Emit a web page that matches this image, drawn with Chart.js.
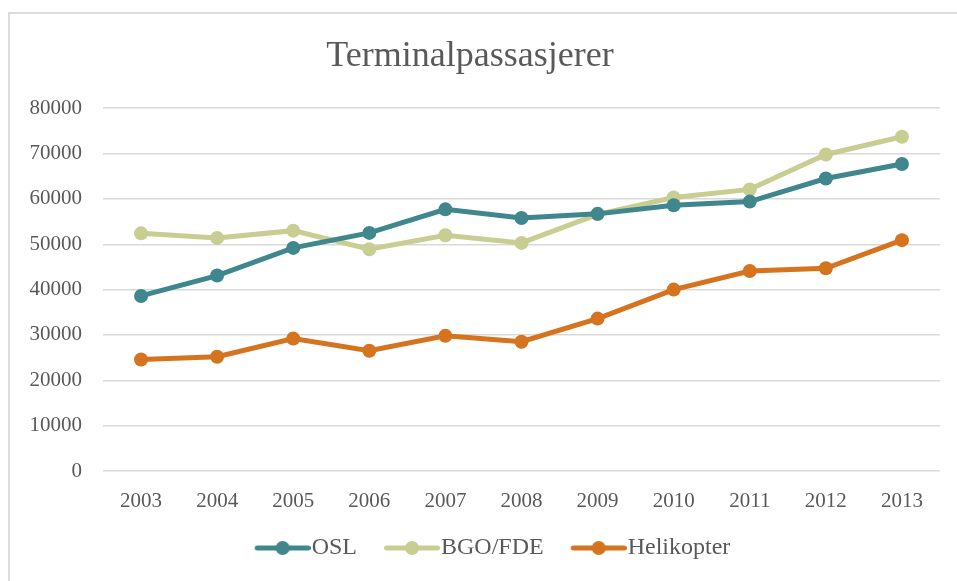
<!DOCTYPE html>
<html><head><meta charset="utf-8">
<script src="https://cdn.jsdelivr.net/npm/chart.js@4/dist/chart.umd.min.js"></script>
<style>
html,body{margin:0;padding:0;background:#fff;}
#wrap{position:relative;width:957px;height:581px;overflow:hidden;}
#frame{position:absolute;left:8px;top:12px;width:1000px;height:700px;border-top:2px solid #dcdcdc;border-left:2px solid #dcdcdc;}
canvas{position:absolute;left:0;top:0;}
</style></head><body>
<div id="wrap"><div id="frame"></div><canvas id="c" width="957" height="581"></canvas></div>
<script>
const titleText = 'Terminalpassasjerer';
const years = ['2003','2004','2005','2006','2007','2008','2009','2010','2011','2012','2013'];
const seriesNames = ['OSL','BGO/FDE','Helikopter'];
const osl        = [38600, 43100, 49200, 52500, 57700, 55800, 56700, 58600, 59400, 64500, 67700];
const bgoFde     = [52400, 51400, 53000, 48900, 52000, 50300, 56600, 60300, 62100, 69800, 73700];
const helikopter = [24600, 25200, 29200, 26500, 29800, 28500, 33600, 40000, 44100, 44700, 50900];
const yTicks = [0, 10000, 20000, 30000, 40000, 50000, 60000, 70000, 80000];

const colors = ['#3f878c', '#c8ce92', '#d5731e'];
const FONT = '"Liberation Serif", "Times New Roman", serif';
const TEXT = '#595959';

// legend marker: line with dot; transparent margin on the left for spacing
function makeMarker(color) {
  const c = document.createElement('canvas');
  c.width = 72; c.height = 18;
  const x = c.getContext('2d');
  x.strokeStyle = color; x.lineWidth = 5; x.lineCap = 'round';
  x.beginPath(); x.moveTo(18.5, 9); x.lineTo(69.5, 9); x.stroke();
  x.fillStyle = color; x.beginPath(); x.arc(44, 9, 7, 0, Math.PI * 2); x.fill();
  return c;
}
const markers = colors.map(makeMarker);

const values = [osl, bgoFde, helikopter];
const datasets = seriesNames.map((name, i) => ({
  label: name,
  data: values[i],
  borderColor: colors[i],
  backgroundColor: colors[i],
  borderWidth: 5,
  pointRadius: 7,
  pointBorderWidth: 0,
  pointBackgroundColor: colors[i],
  tension: 0,
  fill: false
}));

const legendShift = {
  id: 'legendShift',
  afterLayout(chart) {
    const lg = chart.legend;
    if (lg) { lg.left += 20; lg.right += 20; }
  }
};

new Chart(document.getElementById('c'), {
  type: 'line',
  data: { labels: years, datasets },
  plugins: [legendShift],
  options: {
    responsive: false,
    animation: false,
    layout: { padding: { left: 0, right: 17, top: 0, bottom: 11 } },
    plugins: {
      title: {
        display: true, text: titleText, color: TEXT,
        font: { family: FONT, size: 36, weight: 'normal' },
        padding: { top: 35, bottom: 30 }
      },
      legend: {
        position: 'bottom',
        labels: {
          usePointStyle: true,
          pointStyleWidth: 50,
          color: TEXT,
          padding: 22,
          font: { family: FONT, size: 24 },
          generateLabels(chart) {
            const items = Chart.defaults.plugins.legend.labels.generateLabels(chart);
            items.forEach((it, i) => { it.pointStyle = markers[i]; });
            return items;
          }
        }
      },
      tooltip: { enabled: false }
    },
    scales: {
      x: {
        offset: true,
        grid: { display: false, drawTicks: false },
        border: { display: false },
        afterFit: s => { s.height = 43; },
        ticks: { color: TEXT, padding: 20, font: { family: FONT, size: 21, lineHeight: 1 } }
      },
      y: {
        min: 0, max: 80000,
        afterBuildTicks: s => { s.ticks = yTicks.map(v => ({ value: v })); },
        afterFit: s => { s.width = 103; },
        grid: { color: '#d9d9d9', lineWidth: 1.5, drawTicks: false },
        border: { display: false },
        ticks: { color: TEXT, padding: 21, font: { family: FONT, size: 21 }, callback: v => String(v) }
      }
    }
  }
});
</script>
</body></html>
